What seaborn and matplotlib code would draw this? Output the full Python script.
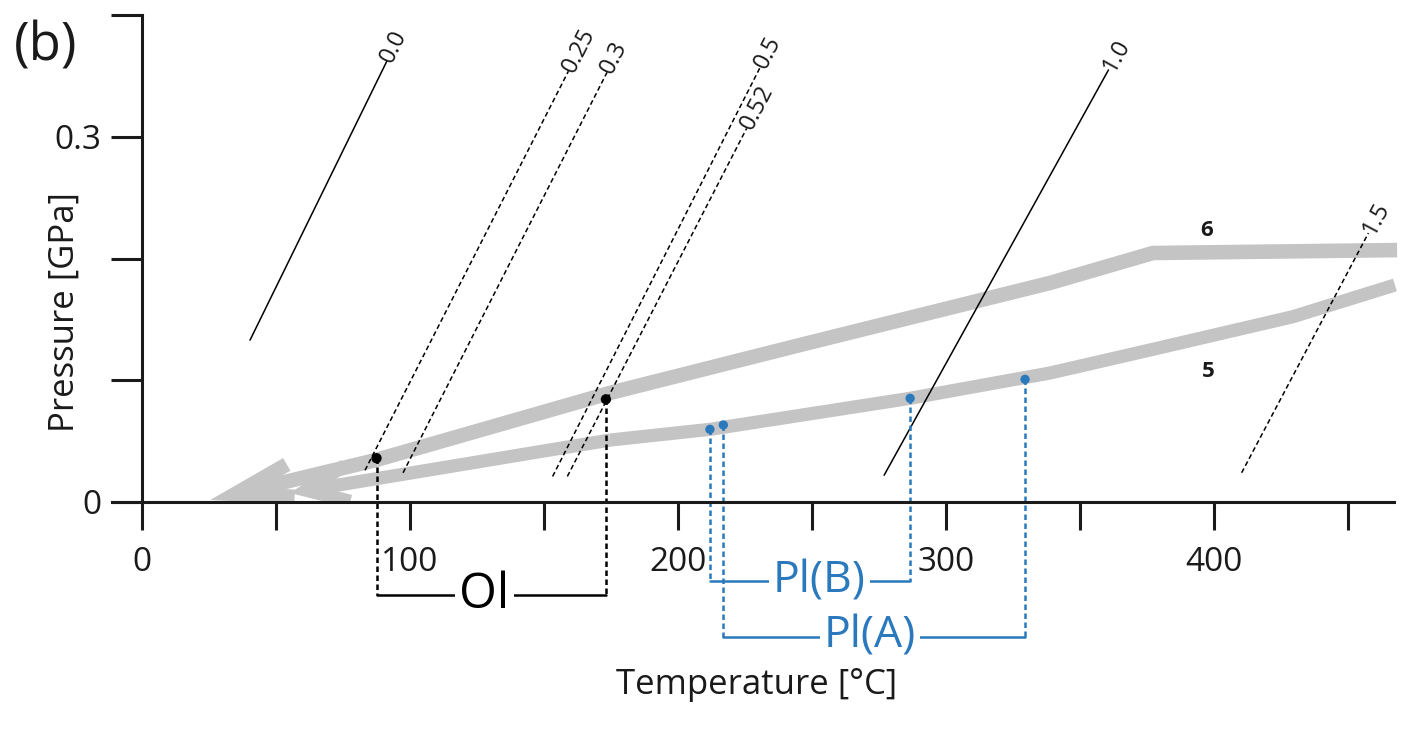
import math
import matplotlib
matplotlib.use("Agg")
import matplotlib.pyplot as plt
import seaborn as sns

# straight reference lines: label, lower and upper end (T in degC, P in GPa)
iso_labels = ["0.0", "0.25", "0.3", "0.5", "0.52", "1.0", "1.5"]
iso_T0 = [40.3, 83.2, 97.4, 153.2, 158.7, 276.9, 410.3]
iso_P0 = [0.133, 0.026, 0.024, 0.021, 0.021, 0.022, 0.024]
iso_T1 = [91.3, 159.1, 173.5, 230.6, 225.6, 360.6, 457.6]
iso_P1 = [0.362, 0.354, 0.353, 0.357, 0.307, 0.355, 0.221]
iso_dashed = [False, True, True, True, True, False, True]

# the two grey P-T paths, from right to the arrow tip
path6_T = [468.3, 377.2, 338.8, 245.5, 174.6, 87.3, 25.4]
path6_P = [0.207, 0.2046, 0.180, 0.129, 0.0896, 0.0345, 0.0016]
path5_T = [467.5, 429.5, 376.1, 338.8, 286.6, 211.9, 174.6, 55.2]
path5_P = [0.1783, 0.1523, 0.1249, 0.106, 0.0852, 0.0597, 0.0509, 0.0074]

# mineral points
ol_T = [87.5, 173.1]
ol_P = [0.036, 0.0844]
plB_T = [211.9, 286.6]
plB_P = [0.0597, 0.0852]
plA_T = [216.9, 329.5]
plA_P = [0.0633, 0.1008]

GREY = "#c4c4c4"
BLUE = "#2a79bd"
INK = "#1a1a1a"

sns.set_theme(style="white")
plt.rcParams["font.family"] = ["Open Sans", "DejaVu Sans"]

fig = plt.figure(figsize=(14.08, 7.32), dpi=100)
ax = fig.add_axes([112 / 1408, 230 / 732, 1281.6 / 1408, 486.8 / 732])
ax.set_xlim(-11.2, 467)
ax.set_ylim(0, 0.4)

# grey paths with arrow heads
for T, P, lw, hl, hw in [(path6_T, path6_P, 10.5, 41, 12), (path5_T, path5_P, 9.5, 30, 13)]:
    sns.lineplot(x=T[:-1], y=P[:-1], sort=False, estimator=None, ax=ax,
                 color=GREY, lw=lw, zorder=1, clip_on=False,
                 solid_capstyle="butt")
    ann = ax.annotate("", xy=(T[-1], P[-1]), xytext=(T[-2], P[-2]),
                      arrowprops=dict(arrowstyle=f"->,head_length={hl},head_width={hw}",
                                      mutation_scale=1, color=GREY, lw=lw,
                                      shrinkA=0, shrinkB=0,
                                      joinstyle="miter", capstyle="butt"),
                      zorder=1)
    ann.arrow_patch.set_clip_on(True)
    ann.arrow_patch.set_clip_box(ax.bbox)

ax.text(397.4, 0.2235, "6", fontsize=16, fontweight="bold", ha="center", va="center", color=INK)
ax.text(397.8, 0.107, "5", fontsize=16, fontweight="bold", ha="center", va="center", color=INK)

# reference lines with labels
for lab, t0, p0, t1, p1, dash in zip(iso_labels, iso_T0, iso_P0, iso_T1, iso_P1, iso_dashed):
    ls = (0, (3.2, 2)) if dash else "-"
    sns.lineplot(x=[t0, t1], y=[p0, p1], sort=False, estimator=None, ax=ax,
                 color="black", lw=1.1, linestyle=ls, zorder=2)
    a = ax.transData.transform((t0, p0))
    b = ax.transData.transform((t1, p1))
    ang = math.degrees(math.atan2(b[1] - a[1], b[0] - a[0]))
    ax.text(t1, p1, lab, fontsize=17, rotation=ang, rotation_mode="anchor",
            ha="left", va="center", color=INK)

# Ol, Pl(B), Pl(A) markers with brackets below the axis
groups = [(ol_T, ol_P, "Ol", "black", -0.0764, 35, -2.5),
          (plB_T, plB_P, "Pl(B)", BLUE, -0.0649, 32, 3.5),
          (plA_T, plA_P, "Pl(A)", BLUE, -0.1107, 32, -1.6)]
for T, P, lab, col, yb, fs, dx in groups:
    for t, p in zip(T, P):
        sns.lineplot(x=[t, t], y=[p, yb], sort=False, estimator=None, ax=ax,
                     color=col, lw=1.8, linestyle=(0, (2.2, 1.4)),
                     zorder=3, clip_on=False)
    sns.lineplot(x=T, y=[yb, yb], sort=False, estimator=None, ax=ax,
                 color=col, lw=1.8, zorder=3, clip_on=False)
    ax.text(sum(T) / 2 + dx, yb, lab, fontsize=fs,
            color=col, ha="center", va="center", zorder=4, clip_on=False,
            bbox=dict(facecolor="white", edgecolor="none", pad=3))
    sns.scatterplot(x=T, y=P, ax=ax, color=col, s=55 if col == "black" else 45,
                    edgecolor="none", zorder=5, clip_on=False)

# axes styling
for side in ["top", "right"]:
    ax.spines[side].set_visible(False)
ax.spines["left"].set_position(("data", 0))
for side in ["left", "bottom"]:
    ax.spines[side].set_linewidth(2.2)
    ax.spines[side].set_color(INK)
    ax.spines[side].set_zorder(6)

xt = list(range(0, 451, 50))
ax.set_xticks(xt)
ax.set_xticklabels([str(v) if v % 100 == 0 else "" for v in xt])
yt = [0, 0.1, 0.2, 0.3, 0.4]
ax.set_yticks(yt)
ax.set_yticklabels(["0", "", "", "0.3", ""])
ax.tick_params(axis="x", direction="out", length=20, width=2.2, pad=12,
               labelsize=24, colors=INK, bottom=True)
ax.tick_params(axis="y", direction="out", length=22, width=2.2, pad=7,
               labelsize=24, colors=INK, left=True)

ax.set_xlabel("Temperature [°C]", fontsize=25, color=INK)
ax.xaxis.label.set_va("center")
ax.xaxis.set_label_coords(0.503, -0.376)
ax.set_ylabel("Pressure [GPa]", fontsize=25, color=INK)
ax.yaxis.label.set_va("center")
ax.yaxis.set_label_coords(-0.0367, 0.391)

fig.text(46 / 1408, 1 - 47 / 732, "(b)", fontsize=38, ha="center", va="center", color=INK)

fig.savefig("out.png", dpi=100)
